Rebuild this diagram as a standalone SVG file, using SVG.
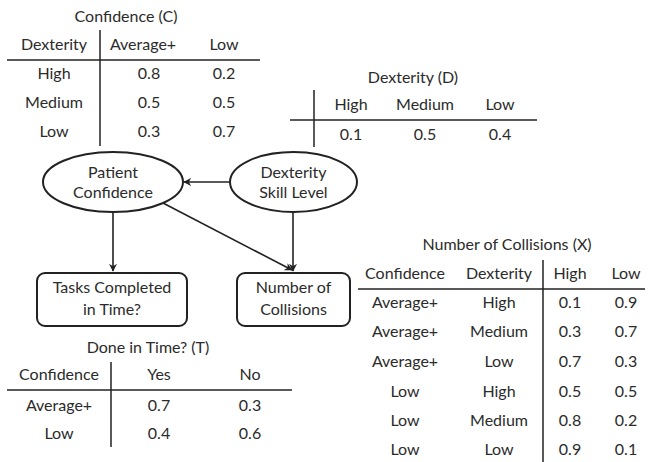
<svg xmlns="http://www.w3.org/2000/svg" width="651" height="462" viewBox="0 0 651 462">
<defs>
<style>
text{font-family:Lato,"Liberation Sans",sans-serif;font-size:16px;fill:#2b2b2b;text-anchor:middle}
.ln{stroke:#222;stroke-width:1.5;fill:none}
.nd{fill:#fff;stroke:#222;stroke-width:2}
.ed{stroke:#222;stroke-width:1.6;fill:none;marker-end:url(#ah)}
</style>
<marker id="ah" viewBox="0 0 10 10" refX="9" refY="5" markerWidth="8" markerHeight="8" markerUnits="userSpaceOnUse" orient="auto">
<path d="M0,0 L10,5 L0,10 L3,5 Z" fill="#222"/>
</marker>
</defs>
<rect width="651" height="462" fill="#fff"/>

<g id="table-c">
<text x="126" y="22">Confidence (C)</text>
<text x="54" y="50">Dexterity</text>
<text x="143" y="50">Average+</text>
<text x="224" y="50">Low</text>
<line class="ln" x1="7" y1="60" x2="260" y2="60"/>
<line class="ln" x1="100" y1="30" x2="100" y2="146"/>
<text x="54" y="79">High</text><text x="149" y="79">0.8</text><text x="224" y="79">0.2</text>
<text x="54" y="108">Medium</text><text x="149" y="108">0.5</text><text x="224" y="108">0.5</text>
<text x="54" y="137">Low</text><text x="149" y="137">0.3</text><text x="224" y="137">0.7</text>
</g>

<g id="table-d">
<text x="413" y="83">Dexterity (D)</text>
<text x="351" y="110">High</text>
<text x="425" y="110">Medium</text>
<text x="500" y="110">Low</text>
<line class="ln" x1="290" y1="120" x2="537" y2="120"/>
<line class="ln" x1="314" y1="90" x2="314" y2="147"/>
<text x="351" y="140">0.1</text><text x="425" y="140">0.5</text><text x="500" y="140">0.4</text>
</g>

<g id="connectors">
<line class="ed" x1="230" y1="182" x2="184" y2="182"/>
<line class="ed" x1="113" y1="212" x2="113" y2="271"/>
<line class="ed" x1="163" y1="203" x2="292" y2="270"/>
<line class="ed" x1="293" y1="212" x2="293" y2="271"/>
</g>

<g id="node-confidence">
<ellipse class="nd" cx="113" cy="182" rx="70" ry="30"/>
<text x="113" y="178">Patient</text>
<text x="113" y="198">Confidence</text>
</g>
<g id="node-dexterity">
<ellipse class="nd" cx="293.5" cy="182" rx="63.5" ry="30"/>
<text x="293.5" y="178">Dexterity</text>
<text x="293.5" y="198">Skill Level</text>
</g>
<g id="node-tasks">
<rect class="nd" x="37" y="273" width="150" height="53" rx="8"/>
<text x="112" y="293">Tasks Completed</text>
<text x="112" y="315">in Time?</text>
</g>
<g id="node-collisions">
<rect class="nd" x="237" y="273" width="113" height="53" rx="8"/>
<text x="293.5" y="293">Number of</text>
<text x="293.5" y="315">Collisions</text>
</g>

<g id="table-x">
<text x="507" y="250">Number of Collisions (X)</text>
<text x="405" y="279">Confidence</text>
<text x="499" y="279">Dexterity</text>
<text x="570" y="279">High</text>
<text x="626" y="279">Low</text>
<line class="ln" x1="358" y1="289" x2="645" y2="289"/>
<line class="ln" x1="543" y1="260" x2="543" y2="462"/>
<text x="405" y="308">Average+</text><text x="499" y="308">High</text><text x="570" y="308">0.1</text><text x="626" y="308">0.9</text>
<text x="405" y="337">Average+</text><text x="499" y="337">Medium</text><text x="570" y="337">0.3</text><text x="626" y="337">0.7</text>
<text x="405" y="367">Average+</text><text x="499" y="367">Low</text><text x="570" y="367">0.7</text><text x="626" y="367">0.3</text>
<text x="405" y="397">Low</text><text x="499" y="397">High</text><text x="570" y="397">0.5</text><text x="626" y="397">0.5</text>
<text x="405" y="426">Low</text><text x="499" y="426">Medium</text><text x="570" y="426">0.8</text><text x="626" y="426">0.2</text>
<text x="405" y="455">Low</text><text x="499" y="455">Low</text><text x="570" y="455">0.9</text><text x="626" y="455">0.1</text>
</g>

<g id="table-t">
<text x="148" y="353">Done in Time? (T)</text>
<text x="59" y="380">Confidence</text>
<text x="159" y="380">Yes</text>
<text x="250" y="380">No</text>
<line class="ln" x1="7" y1="390" x2="292" y2="390"/>
<line class="ln" x1="111" y1="362" x2="111" y2="447"/>
<text x="59" y="411">Average+</text><text x="159" y="411">0.7</text><text x="250" y="411">0.3</text>
<text x="59" y="439">Low</text><text x="159" y="439">0.4</text><text x="250" y="439">0.6</text>
</g>
</svg>
